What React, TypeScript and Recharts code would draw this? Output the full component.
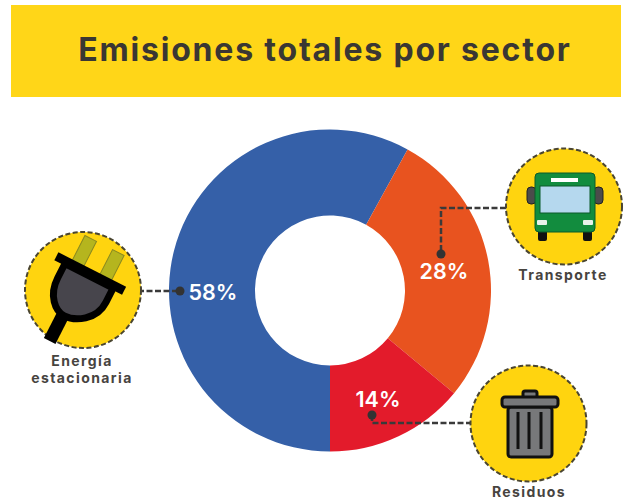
import { Cell, Pie, PieChart } from "recharts"

const SECTORS = ["Energía estacionaria", "Transporte", "Residuos"]
const SHARES = [58, 28, 14]
const COLORS = ["#3560A8", "#E8531F", "#E31B2B"]

const FONT = "Inter, Lato, sans-serif"
const INK = "#3A3733"
const YELLOW = "#FFD40F"

const data = SECTORS.map((name, i) => ({ name, value: SHARES[i] }))

// where the percent labels sit, relative to the donut centre
const LABEL_OFFSETS = [
  [-117, 1],
  [114, -20],
  [48, 108],
]

function renderPercent(props: any) {
  const [dx, dy] = LABEL_OFFSETS[props.index]
  return (
    <text
      x={props.cx + dx}
      y={props.cy + dy}
      fill="#fff"
      fontFamily={FONT}
      fontWeight={600}
      fontSize={21.5}
      textAnchor="middle"
      dominantBaseline="central"
    >
      {props.value}%
    </text>
  )
}

function Badge({ cx, cy }: { cx: number; cy: number }) {
  return (
    <circle cx={cx} cy={cy} r={58} fill={YELLOW} stroke="#4A4530" strokeWidth={2} strokeDasharray="5 2.5" />
  )
}

function Caption({ x, y, children }: { x: number; y: number; children: string }) {
  return (
    <text x={x} y={y} fill="#47443F" fontFamily={FONT} fontWeight={700} fontSize={14} letterSpacing={1.4} textAnchor="middle">
      {children}
    </text>
  )
}

function Plug() {
  return (
    <g transform="translate(90 274) rotate(27)">
      <rect x={-22} y={-32} width={13} height={30} fill="#B5B51E" stroke="#8A8A20" strokeWidth={1} />
      <rect x={9} y={-32} width={13} height={30} fill="#B5B51E" stroke="#8A8A20" strokeWidth={1} />
      <rect x={-12} y={40} width={13} height={38} fill="#000" />
      <path d="M-27 2 V18 C-27 38 -14 49 -4 49 C8 49 27 38 27 18 V2 Z" fill="#47454C" stroke="#000" strokeWidth={7} />
      <rect x={-38} y={-5} width={76} height={9} fill="#000" />
    </g>
  )
}

function Bus() {
  return (
    <g>
      <rect x={527} y={187} width={9} height={17} rx={4} fill="#4B4B4B" stroke="#222" />
      <rect x={594} y={187} width={9} height={17} rx={4} fill="#4B4B4B" stroke="#222" />
      <rect x={538} y={228} width={9} height={13} rx={2} fill="#111" />
      <rect x={583} y={228} width={9} height={13} rx={2} fill="#111" />
      <rect x={535} y={173} width={60} height={59} rx={4} fill="#128C3E" stroke="#0B5A2A" />
      <rect x={540} y={186} width={50} height={27} fill="#B5D8EE" stroke="#0B5A2A" />
      <rect x={551} y={178} width={27} height={4} fill="#fff" />
      <rect x={537} y={220} width={10} height={5} rx={1} fill="#E8F2EA" />
      <rect x={583} y={220} width={10} height={5} rx={1} fill="#E8F2EA" />
    </g>
  )
}

function Bin() {
  return (
    <g stroke="#111" strokeWidth={3}>
      <rect x={523} y={391} width={14} height={7} rx={2} fill="#77787A" />
      <rect x={508} y={407} width={44} height={50} rx={3} fill="#77787A" />
      <rect x={502} y={397} width={56} height={10} rx={3} fill="#77787A" />
      <line x1={518} x2={518} y1={412} y2={449} />
      <line x1={529} x2={529} y1={412} y2={449} />
      <line x1={541} x2={541} y1={412} y2={449} />
    </g>
  )
}

function Leader({ d, dot }: { d: string; dot: [number, number] }) {
  return (
    <g>
      <path d={d} fill="none" stroke="#3A3A3A" strokeWidth={2.5} strokeDasharray="6 2.5" />
      <circle cx={dot[0]} cy={dot[1]} r={4.5} fill="#333" />
    </g>
  )
}

export default function App() {
  return (
    <div style={{ position: "absolute", left: 0, top: 0, width: 632, height: 501, background: "#fff", overflow: "hidden" }}>
      <div
        style={{
          position: "absolute",
          left: 11,
          top: 5,
          width: 592,
          height: 92,
          paddingLeft: 18,
          background: "#FFD618",
          color: INK,
          fontFamily: FONT,
          fontWeight: 700,
          fontSize: 32,
          letterSpacing: 1.8,
          lineHeight: "90px",
          textAlign: "center",
          whiteSpace: "nowrap",
        }}
      >
        Emisiones totales por sector
      </div>
      <PieChart width={632} height={501} margin={{ top: 0, right: 0, bottom: 0, left: 0 }} style={{ position: "absolute", left: 0, top: 0 }}>
        <Pie
          data={data}
          dataKey="value"
          nameKey="name"
          cx={330}
          cy={290.5}
          innerRadius={75}
          outerRadius={161}
          startAngle={-90}
          endAngle={-450}
          stroke="none"
          label={renderPercent}
          labelLine={false}
          isAnimationActive={false}
        >
          {data.map((entry, i) => (
            <Cell key={entry.name} fill={COLORS[i]} />
          ))}
        </Pie>
      </PieChart>
      <svg width={632} height={501} style={{ position: "absolute", left: 0, top: 0 }}>
        <Leader d="M138 291 H180" dot={[180, 291]} />
        <Leader d="M506 208 H441 V254" dot={[441, 254]} />
        <Leader d="M472 423 H372 V416" dot={[372, 415]} />
        <Badge cx={83} cy={290} />
        <Plug />
        <Badge cx={564} cy={206.5} />
        <Bus />
        <Badge cx={528.5} cy={423.5} />
        <Bin />
        <Caption x={82} y={366}>Energía</Caption>
        <Caption x={82} y={383}>estacionaria</Caption>
        <Caption x={563} y={280}>Transporte</Caption>
        <Caption x={529} y={497}>Residuos</Caption>
      </svg>
    </div>
  )
}
